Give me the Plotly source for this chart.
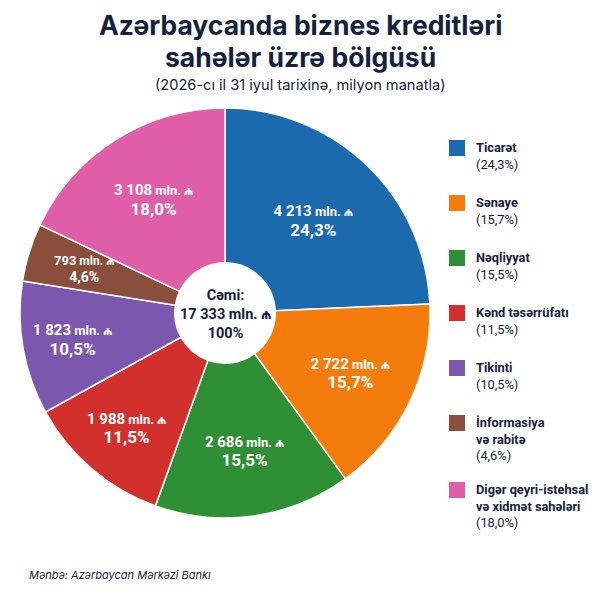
import math

import plotly.graph_objects as go

# sectors, clockwise from 12 o'clock
sectors = [
    "Ticarət",
    "Sənaye",
    "Nəqliyyat",
    "Kənd təsərrüfatı",
    "Tikinti",
    "İnformasiya<br>və rabitə",
    "Digər qeyri-istehsal<br>və xidmət sahələri",
]
loans_mln = [4213, 2722, 2686, 1988, 1823, 793, 3108]
shares_pct = [24.3, 15.7, 15.5, 11.5, 10.5, 4.6, 18.0]
colors = ["#1b6aae", "#f47c0c", "#2f8f34", "#d2302d", "#7b58ae", "#8a4e3d", "#e05ea8"]

TOTAL = 17333
NAVY = "#14213d"
# the browser page puts the figure 8px in from the top-left corner
OFF = 8
W = H = 600 - OFF

# pie placement in page pixels
PIE_CX, PIE_CY, PIE_R = 225, 313, 205


def az_int(n):
    return f"{n:,}".replace(",", " ")


def az_pct(p):
    return f"{p:.1f}".replace(".", ",") + "%"


def px(x, y):
    return (x - OFF) / W, 1 - (y - OFF) / H


def label_html(v, p, small=False):
    n_size, u_size, p_size = (13, 12, 14) if small else (15, 13, 17)
    return (
        f"<span style='font-size:{n_size}px'><b>{az_int(v)}</b></span>"
        f"<span style='font-size:{u_size}px'><b> mln. ₼</b></span><br>"
        f"<span style='font-size:{p_size}px'><b>{az_pct(p)}</b></span>"
    )


# small slices don't fit plotly's inside text, they get an annotation instead
small_slice = [v / TOTAL < 0.06 for v in loans_mln]
slice_text = [
    "" if s else label_html(v, p) for v, p, s in zip(loans_mln, shares_pct, small_slice)
]

dx0, dy0 = px(PIE_CX - PIE_R, PIE_CY + PIE_R)
dx1, dy1 = px(PIE_CX + PIE_R, PIE_CY - PIE_R)

fig = go.Figure(
    go.Pie(
        labels=[s.replace("<br>", " ") for s in sectors],
        values=loans_mln,
        text=slice_text,
        textinfo="text",
        textposition="inside",
        insidetextorientation="horizontal",
        insidetextfont=dict(family="Roboto, Noto Sans, DejaVu Sans", color="white", size=15),
        sort=False,
        direction="clockwise",
        rotation=0,
        hole=0.245,
        marker=dict(colors=colors, line=dict(color="white", width=1.5)),
        domain=dict(x=[dx0, dx1], y=[dy0, dy1]),
        showlegend=False,
        hoverinfo="label+value+percent",
    )
)

annotations = []
shapes = []

# title block, one annotation per line to keep the line gap tight
for line, y in [("Azərbaycanda biznes kreditləri", 25), ("sahələr üzrə bölgüsü", 57)]:
    tx, ty = px(300, y)
    annotations.append(dict(
        x=tx, y=ty, xanchor="center", yanchor="middle", borderpad=0,
        text=f"<b>{line}</b>",
        font=dict(family="Inter, Noto Sans, DejaVu Sans", size=26.5, color=NAVY),
    ))
sx, sy = px(300, 85)
annotations.append(dict(
    x=sx, y=sy, xanchor="center", yanchor="middle",
    text="(2026-cı il 31 iyul tarixinə, milyon manatla)",
    font=dict(family="Inter, Noto Sans, DejaVu Sans", size=14.6, color=NAVY),
))

# labels for the narrow slices, on the slice bisector
cum = 0
for v, p, s in zip(loans_mln, shares_pct, small_slice):
    mid = (cum + v / 2) / TOTAL * 2 * math.pi
    cum += v
    if not s:
        continue
    lx, ly = px(PIE_CX + 0.72 * PIE_R * math.sin(mid), PIE_CY - 0.72 * PIE_R * math.cos(mid))
    annotations.append(dict(
        x=lx, y=ly, xanchor="center", yanchor="middle",
        text=label_html(v, p, small=True),
        font=dict(family="Roboto, Noto Sans, DejaVu Sans", size=13, color="white"),
    ))

# centre label
cx, cy = px(PIE_CX, PIE_CY + 1)
annotations.append(dict(
    x=cx, y=cy, xanchor="center", yanchor="middle",
    text=f"<b>Cəmi:<br>{az_int(TOTAL)} mln. ₼<br>100%</b>",
    font=dict(family="Roboto, Noto Sans, DejaVu Sans", size=14.5, color=NAVY),
))

# legend
y_line = 148
for name, p, c in zip(sectors, shares_pct, colors):
    lines = name.count("<br>") + 1
    x0, y0 = px(449, y_line - 8)
    x1, y1 = px(465, y_line + 8)
    shapes.append(dict(
        type="rect", xref="paper", yref="paper",
        x0=x0, x1=x1, y0=y0, y1=y1, fillcolor=c, line=dict(width=0),
    ))
    lx, ly = px(474, y_line - 10)
    annotations.append(dict(
        x=lx, y=ly, xanchor="left", yanchor="top", align="left",
        text=f"<b>{name}</b><br>({az_pct(p)})",
        font=dict(family="Roboto, Noto Sans, DejaVu Sans", size=12.8, color=NAVY),
    ))
    y_line += 55 + 12 * (lines - 1)

# source
mx, my = px(27, 575)
annotations.append(dict(
    x=mx, y=my, xanchor="left", yanchor="middle",
    text="<i>Mənbə: Azərbaycan Mərkəzi Bankı</i>",
    font=dict(family="Inter, Noto Sans, DejaVu Sans", size=11, color=NAVY),
))

for a in annotations:
    a.update(xref="paper", yref="paper", showarrow=False)

fig.update_layout(
    width=W,
    height=H,
    margin=dict(l=0, r=0, t=0, b=0),
    paper_bgcolor="white",
    plot_bgcolor="white",
    annotations=annotations,
    shapes=shapes,
    uniformtext=dict(minsize=13, mode="show"),
)

fig.write_html("out.html")
